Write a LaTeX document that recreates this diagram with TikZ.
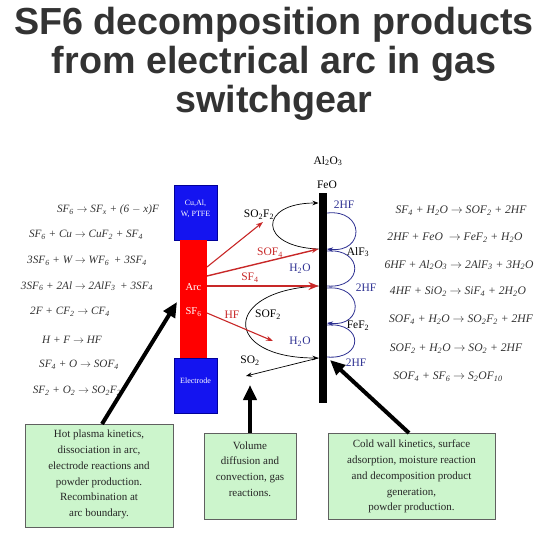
\documentclass[tikz,border=0pt]{standalone}
\usepackage{fontspec}
\setmainfont{Liberation Serif}
\newfontfamily\titlefont{Liberation Sans}
\usetikzlibrary{arrows.meta}
\definecolor{titlegray}{HTML}{333333}
\definecolor{eqgray}{HTML}{333333}
\definecolor{arcred}{HTML}{FF0000}
\definecolor{boxblue}{HTML}{1414F0}
\definecolor{darkred}{HTML}{C82828}
\definecolor{navy}{HTML}{2E3192}
\definecolor{boxgreen}{HTML}{CCF5CC}
\definecolor{boxborder}{HTML}{606060}
\newcommand\myss[1]{\textsubscript{#1}}
\newcommand\myra{$\rightarrow$}
\begin{document}
\begin{tikzpicture}[x=1pt,y=-1pt,
  titletxt/.style={font=\titlefont\bfseries\fontsize{37.7}{40}\selectfont, text=titlegray, inner sep=0, anchor=base},
  eqn/.style={font=\fontsize{11.2}{12}\selectfont\itshape, text=eqgray, inner sep=0},
  eqnr/.style={eqn, font=\fontsize{11.6}{12}\selectfont\itshape},
  chem/.style={font=\fontsize{11.5}{13}\selectfont, inner sep=0},
  whitetxt/.style={text=white, inner sep=0, align=center},
  bluebox/.style={draw=blue!60!black, fill=boxblue, minimum width=43pt, minimum height=55pt, inner sep=0},
  greenbox/.style={draw=boxborder, fill=boxgreen, line width=0.8pt, inner sep=0},
  greentxt/.style={align=center, font=\fontsize{11}{15.8}\selectfont, inner sep=0, text=black!85},
  redarrow/.style={draw=darkred, line width=1.1pt, -{Stealth[length=7pt,width=5pt]}},
  thinarrow/.style={draw=black, line width=0.7pt, -{Stealth[length=6pt,width=4.5pt]}},
  bluearrow/.style={draw=navy, line width=0.8pt, -{Stealth[length=6pt,width=4.5pt]}},
  blueline/.style={draw=navy, line width=0.8pt},
  bigarrow/.style={draw=black, line width=4pt, -{Triangle[length=15pt,width=13pt]}}
]
\useasboundingbox (0,0) rectangle (550,550);
% title
\node[titletxt] (t1) at (274,34) {SF6 decomposition products};
\node[titletxt] (t2) at (274,73) {from electrical arc in gas};
\node[titletxt] (t3) at (274,112) {switchgear};

% arc column
\node[bluebox] (cubox) at (195.5,212.5) {};
\node[draw=none, fill=arcred, minimum width=27pt, minimum height=118pt, inner sep=0] (arc) at (193.5,299) {};
\node[bluebox] (elbox) at (195.5,385.5) {};
\node[whitetxt, font=\fontsize{8}{11}\selectfont] (cutxt) at (195.5,208.5) {Cu,Al,\\W, PTFE};
\node[whitetxt, font=\fontsize{10.5}{12}\selectfont] (arctxt) at (193.5,287) {Arc};
\node[whitetxt, font=\fontsize{10.5}{12}\selectfont] (sftxt) at (193.5,312) {SF\myss{6}};
\node[whitetxt, font=\fontsize{8}{11}\selectfont] (eltxt) at (195.5,381) {Electrode};

% wall
\node[fill=black, minimum width=8.5pt, minimum height=210pt, inner sep=0] (wall) at (322.75,298) {};
\node[chem] (al2o3) at (328,161) {Al\myss{2}O\myss{3}};
\node[chem] (feo) at (327,185) {FeO};

% coordinates
\coordinate (a1) at (207,267);
\coordinate (a2) at (207,276);
\coordinate (a3) at (207,286);
\coordinate (a4) at (207,313);
\coordinate (so2f2end) at (263,222);
\coordinate (hfend) at (273,341);
\coordinate (wl203) at (318.5,203);
\coordinate (wl249) at (318.5,249);
\coordinate (wl286) at (318.5,286);
\coordinate (wl358) at (318.5,358);
\coordinate (so2end) at (246,376);
\coordinate (wr213) at (327,213);
\coordinate (wr249) at (327,249);
\coordinate (wr251) at (327,251);
\coordinate (wr286) at (327,286);
\coordinate (wr288) at (327,288);
\coordinate (wr323) at (327,323);
\coordinate (wr325) at (327,325);
\coordinate (wr357) at (327,357);

% black loops
\draw[thinarrow] (wl249) .. controls (258,247) and (258,203) .. (wl203);
\draw[thinarrow] (wl286) .. controls (222,290) and (222,358) .. (wl358);
\draw[thinarrow] (wl358) -- (so2end);

% red arrows
\draw[redarrow] (a1) -- (so2f2end);
\draw[redarrow, line width=1.4pt] (a2) -- (wl249);
\draw[redarrow, line width=2.4pt, -{Stealth[length=10pt,width=8pt]}] (a3) -- (wl286);
\draw[redarrow] (a4) -- (hfend);

% blue loops
\draw[bluearrow] (wr213) .. controls (365,209) and (365,253) .. (wr249);
\draw[blueline] (wr251) .. controls (364,248) and (364,289) .. (wr286);
\draw[bluearrow] (wr288) .. controls (364,285) and (364,327) .. (wr323);
\draw[blueline] (wr325) .. controls (364,322) and (364,360) .. (wr357);

% labels near wall
\node[chem] (lso2f2) at (259,215) {SO\myss{2}F\myss{2}};
\node[chem, text=darkred] (lsof4) at (270,253) {SOF\myss{4}};
\node[chem, text=navy] (lh2o1) at (300,269) {H\myss{2}O};
\node[chem, text=darkred] (lsf4) at (250,278) {SF\myss{4}};
\node[chem, text=darkred] (lhf) at (232,315) {HF};
\node[chem] (lsof2) at (268,315) {SOF\myss{2}};
\node[chem, text=navy] (lh2o2) at (300,342) {H\myss{2}O};
\node[chem] (lso2) at (250,361) {SO\myss{2}};
\node[chem, text=navy] (l2hf1) at (344,205) {2HF};
\node[chem] (lalf3) at (358,252) {AlF\myss{3}};
\node[chem, text=navy] (l2hf2) at (366,288) {2HF};
\node[chem] (lfef2) at (358,326) {FeF\myss{2}};
\node[chem, text=navy] (l2hf3) at (356,363) {2HF};

% left equations
\node[eqn] (e1) at (108,210) {SF\myss{6} \myra{} SF\myss{x} + (6 $-$ x)F};
\node[eqn] (e2) at (86,235) {SF\myss{6} + Cu \myra{} CuF\myss{2} + SF\myss{4}};
\node[eqn] (e3) at (87,261) {3SF\myss{6} + W \myra{} WF\myss{6} \,+ 3SF\myss{4}};
\node[eqn] (e4) at (87,286) {3SF\myss{6} + 2Al \myra{} 2AlF\myss{3} \,+ 3SF\myss{4}};
\node[eqn] (e5) at (70,312) {2F + CF\myss{2} \myra{} CF\myss{4}};
\node[eqn] (e6) at (72,340) {H + F \myra{} HF};
\node[eqn] (e7) at (79,365) {SF\myss{4} + O \myra{} SOF\myss{4}};
\node[eqn] (e8) at (77,391) {SF\myss{2} + O\myss{2} \myra{} SO\myss{2}F\myss{2}};

% right equations
\node[eqnr] (r1) at (461,211) {SF\myss{4} + H\myss{2}O \myra{} SOF\myss{2} + 2HF};
\node[eqnr] (r2) at (455,238) {2HF + FeO \ \myra{} FeF\myss{2} + H\myss{2}O};
\node[eqnr] (r3) at (459,265) {6HF + Al\myss{2}O\myss{3} \myra{} 2AlF\myss{3} + 3H\myss{2}O};
\node[eqnr] (r4) at (458,292) {4HF + SiO\myss{2} \myra{} SiF\myss{4} + 2H\myss{2}O};
\node[eqnr] (r5) at (461,320) {SOF\myss{4} + H\myss{2}O \myra{} SO\myss{2}F\myss{2} + 2HF};
\node[eqnr] (r6) at (456,349) {SOF\myss{2} + H\myss{2}O \myra{} SO\myss{2} + 2HF};
\node[eqnr] (r7) at (448,377) {SOF\myss{4} + SF\myss{6} \myra{} S\myss{2}OF\myss{10}};

% green boxes
\node[greenbox, minimum width=148pt, minimum height=103pt] (g1) at (99,475.5) {};
\node[greentxt] (g1t) at (99,474.5) {Hot plasma kinetics,\\dissociation in arc,\\electrode reactions and\\powder production.\\Recombination at\\arc boundary.};
\node[greenbox, minimum width=92pt, minimum height=86pt] (g2) at (250,476) {};
\node[greentxt] (g2t) at (250,469) {Volume\\diffusion and\\convection, gas\\reactions.};
\node[greenbox, minimum width=167pt, minimum height=86pt] (g3) at (411.5,476) {};
\node[greentxt] (g3t) at (411.5,476.5) {Cold wall kinetics, surface\\adsorption, moisture reaction\\and decomposition product\\generation,\\powder production.};

% big arrows
\coordinate (b1) at (102,424);
\coordinate (b1tip) at (177,302);
\coordinate (b2) at (250,433);
\coordinate (b2tip) at (250,385);
\coordinate (b3) at (409,433);
\coordinate (b3tip) at (330,360);
\draw[bigarrow] (b1) -- (b1tip);
\draw[bigarrow] (b2) -- (b2tip);
\draw[bigarrow] (b3) -- (b3tip);
\end{tikzpicture}
\end{document}
